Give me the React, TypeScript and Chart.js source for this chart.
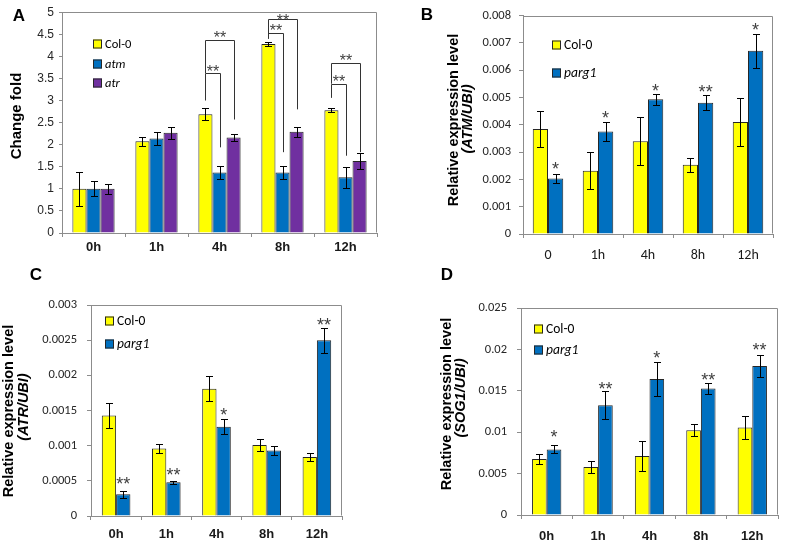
import React, { useEffect, useRef } from 'react';
import { Chart, registerables } from 'chart.js';

Chart.register(...registerables);

const W = 787;
const H = 543;
const YELLOW = '#FFFF00';
const BLUE = '#0070C0';
const PURPLE = '#7030A0';
const AXIS = '#8C8C8C';
const ARIAL = "'Liberation Sans', Arial, sans-serif";
const CALIBRI = "Carlito, Lato, sans-serif";

// ---------- Panel A ----------
const timesA = ['0h', '1h', '4h', '8h', '12h'];
const colA = [1.0, 2.08, 2.69, 4.28, 2.78];
const colAErr = [0.39, 0.1, 0.13, 0.055, 0.05];
const atmA = [1.0, 2.14, 1.37, 1.37, 1.26];
const atmAErr = [0.17, 0.14, 0.145, 0.14, 0.23];
const atrA = [1.0, 2.27, 2.16, 2.29, 1.63];
const atrAErr = [0.12, 0.14, 0.085, 0.11, 0.18];
const yTicksA = { max: 5, step: 0.5 };
// significance brackets (Col-0 vs mutant)
const bracketTimeA = [2, 2, 3, 3, 4, 4];
const bracketTargetA = [1, 2, 1, 2, 1, 2];
const bracketBaseA = [3.0, 3.62, 4.4, 4.4, 3.06, 3.38];
const bracketTopA = [3.62, 4.37, 4.54, 4.85, 3.38, 3.84];
const bracketEndA = [1.94, 2.57, 1.83, 2.8, 1.75, 1.83];
const bracketStarYA = [3.73, 4.5, 4.66, 4.89, 3.51, 3.99];
const bracketTextA = ['**', '**', '**', '**', '**', '**'];

// ---------- Panel B ----------
const timesB = ['0', '1h', '4h', '8h', '12h'];
const colB = [0.00384, 0.00232, 0.0034, 0.00254, 0.0041];
const colBErr = [0.00067, 0.00067, 0.00089, 0.00026, 0.00089];
const pargB = [0.00203, 0.00375, 0.00493, 0.00481, 0.00671];
const pargBErr = [0.00016, 0.00035, 0.00021, 0.00027, 0.00063];
const starB = ['*', '*', '*', '**', '*'];
const starYB = [0.00249, 0.00439, 0.00536, 0.00533, 0.00759];
const yTicksB = { max: 0.008, step: 0.001 };

// ---------- Panel C ----------
const timesC = ['0h', '1h', '4h', '8h', '12h'];
const colC = [0.00143, 0.00096, 0.00181, 0.00101, 0.00084];
const colCErr = [0.00018, 0.000066, 0.000175, 0.00009, 0.000052];
const pargC = [0.00031, 0.00048, 0.00127, 0.00093, 0.0025];
const pargCErr = [0.00005, 0.00002, 0.00011, 0.000065, 0.00018];
const starC = ['**', '**', '*', '', '**'];
const starYC = [0.0005, 0.00063, 0.00148, 0, 0.00277];
const yTicksC = { max: 0.003, step: 0.0005 };

// ---------- Panel D ----------
const timesD = ['0h', '1h', '4h', '8h', '12h'];
const colD = [0.00676, 0.0058, 0.00712, 0.01024, 0.01056];
const colDErr = [0.00056, 0.00072, 0.0018, 0.0007, 0.00138];
const pargD = [0.00792, 0.01324, 0.01644, 0.01528, 0.018];
const pargDErr = [0.00048, 0.00168, 0.00208, 0.00062, 0.00138];
const starD = ['*', '**', '*', '**', '**'];
const starYD = [0.0098, 0.0156, 0.0194, 0.0167, 0.0203];
const yTicksD = { max: 0.025, step: 0.005 };

type Series = { name: string; italic: boolean; color: string; values: number[]; errors: number[] };

type Panel = {
  labels: string[];
  series: Series[];
  yMax: number;
  yStep: number;
  area: { l: number; t: number; r: number; b: number };
  catPct: number;
  yFont: { family: string; size: number; weight: string };
  yTickLen: number;
  yPad: number;
  xFont: { family: string; size: number; weight: string };
  xPad: number;
  legend: { dx: number; dy: number[]; size: number; box: number };
  stars?: { dataset: number; text: string[]; y: number[] };
  brackets?: {
    time: number[]; target: number[]; base: number[]; top: number[]; end: number[]; starY: number[]; text: string[];
  };
  titles: { text: string; x: number; y: number; italic: boolean; size: number }[];
  letter: { text: string; x: number; y: number };
};

const panels: Panel[] = [
  {
    labels: timesA,
    series: [
      { name: 'Col-0', italic: false, color: YELLOW, values: colA, errors: colAErr },
      { name: 'atm', italic: true, color: BLUE, values: atmA, errors: atmAErr },
      { name: 'atr', italic: true, color: PURPLE, values: atrA, errors: atrAErr },
    ],
    yMax: yTicksA.max,
    yStep: yTicksA.step,
    area: { l: 62, t: 10, r: 377, b: 233 },
    catPct: 0.67,
    yFont: { family: ARIAL, size: 12, weight: 'normal' },
    yTickLen: 3,
    yPad: 5,
    xFont: { family: ARIAL, size: 13, weight: 'bold' },
    xPad: 3,
    legend: { dx: 31, dy: [32, 52, 71], size: 12.5, box: 9 },
    brackets: {
      time: bracketTimeA, target: bracketTargetA, base: bracketBaseA, top: bracketTopA,
      end: bracketEndA, starY: bracketStarYA, text: bracketTextA,
    },
    titles: [{ text: 'Change fold', x: 17, y: 116, italic: false, size: 15 }],
    letter: { text: 'A', x: 19, y: 15 },
  },
  {
    labels: timesB,
    series: [
      { name: 'Col-0', italic: false, color: YELLOW, values: colB, errors: colBErr },
      { name: 'parg1', italic: true, color: BLUE, values: pargB, errors: pargBErr },
    ],
    yMax: yTicksB.max,
    yStep: yTicksB.step,
    area: { l: 523, t: 7, r: 773, b: 234 },
    catPct: 0.61,
    yFont: { family: CALIBRI, size: 12.5, weight: 'normal' },
    yTickLen: 4,
    yPad: 8,
    xFont: { family: CALIBRI, size: 14, weight: 'normal' },
    xPad: 9,
    legend: { dx: 29, dy: [29, 57], size: 13.5, box: 9 },
    stars: { dataset: 1, text: starB, y: starYB },
    titles: [
      { text: 'Relative expression level', x: 454, y: 120, italic: false, size: 14.5 },
      { text: '(ATM/UBI)', x: 468, y: 119, italic: true, size: 14.5 },
    ],
    letter: { text: 'B', x: 427, y: 14 },
  },
  {
    labels: timesC,
    series: [
      { name: 'Col-0', italic: false, color: YELLOW, values: colC, errors: colCErr },
      { name: 'parg1', italic: true, color: BLUE, values: pargC, errors: pargCErr },
    ],
    yMax: yTicksC.max,
    yStep: yTicksC.step,
    area: { l: 91, t: 305, r: 342, b: 516 },
    catPct: 0.57,
    yFont: { family: CALIBRI, size: 12.5, weight: 'normal' },
    yTickLen: 4,
    yPad: 10,
    xFont: { family: ARIAL, size: 13, weight: 'bold' },
    xPad: 7,
    legend: { dx: 14, dy: [16, 39], size: 13.5, box: 9 },
    stars: { dataset: 1, text: starC, y: starYC },
    titles: [
      { text: 'Relative expression level', x: 9, y: 411, italic: false, size: 14.5 },
      { text: '(ATR/UBI)', x: 24, y: 407, italic: true, size: 14.5 },
    ],
    letter: { text: 'C', x: 36, y: 274 },
  },
  {
    labels: timesD,
    series: [
      { name: 'Col-0', italic: false, color: YELLOW, values: colD, errors: colDErr },
      { name: 'parg1', italic: true, color: BLUE, values: pargD, errors: pargDErr },
    ],
    yMax: yTicksD.max,
    yStep: yTicksD.step,
    area: { l: 521, t: 308, r: 778, b: 515 },
    catPct: 0.57,
    yFont: { family: CALIBRI, size: 12.5, weight: 'normal' },
    yTickLen: 4,
    yPad: 10,
    xFont: { family: ARIAL, size: 13, weight: 'bold' },
    xPad: 10,
    legend: { dx: 13, dy: [21, 42], size: 13.5, box: 9 },
    stars: { dataset: 1, text: starD, y: starYD },
    titles: [
      { text: 'Relative expression level', x: 447, y: 404, italic: false, size: 14.5 },
      { text: '(SOG1/UBI)', x: 461, y: 398, italic: true, size: 14.5 },
    ],
    letter: { text: 'D', x: 447, y: 274 },
  },
];

function drawStar(ctx: CanvasRenderingContext2D, text: string, x: number, yCenter: number, size: number) {
  ctx.save();
  ctx.font = `${size}px ${ARIAL}`;
  ctx.fillStyle = '#404040';
  ctx.textAlign = 'center';
  ctx.textBaseline = 'alphabetic';
  const m = ctx.measureText(text);
  const off = (m.actualBoundingBoxAscent - m.actualBoundingBoxDescent) / 2;
  ctx.fillText(text, x, yCenter + off);
  ctx.restore();
}

function extrasPlugin(p: Panel) {
  return {
    id: 'panelExtras',
    afterDatasetsDraw(chart: any) {
      const ctx: CanvasRenderingContext2D = chart.ctx;
      const ys = chart.scales.y;
      // error bars
      p.series.forEach((s, di) => {
        const meta = chart.getDatasetMeta(di);
        meta.data.forEach((bar: any, j: number) => {
          const v = s.values[j];
          const e = s.errors[j];
          const yT = Math.round(ys.getPixelForValue(v + e)) + 0.5;
          const yB = Math.round(ys.getPixelForValue(v - e)) + 0.5;
          const x = Math.round(bar.x) + 0.5;
          ctx.save();
          ctx.strokeStyle = '#000';
          ctx.lineWidth = 1;
          ctx.beginPath();
          ctx.moveTo(x, yT);
          ctx.lineTo(x, yB);
          ctx.moveTo(x - 3.5, yT);
          ctx.lineTo(x + 3.5, yT);
          ctx.moveTo(x - 3.5, yB);
          ctx.lineTo(x + 3.5, yB);
          ctx.stroke();
          ctx.restore();
        });
      });
      // stars above bars
      if (p.stars) {
        const meta = chart.getDatasetMeta(p.stars.dataset);
        p.stars.text.forEach((t, j) => {
          if (!t) return;
          drawStar(ctx, t, meta.data[j].x, ys.getPixelForValue(p.stars!.y[j]), 18);
        });
      }
      // brackets
      if (p.brackets) {
        const b = p.brackets;
        const m0 = chart.getDatasetMeta(0);
        b.time.forEach((ti, k) => {
          const mt = chart.getDatasetMeta(b.target[k]);
          const x1 = Math.round(m0.data[ti].x) + 0.5;
          const x2 = Math.round(mt.data[ti].x) + 0.5;
          const yb = ys.getPixelForValue(b.base[k]);
          const yt = Math.round(ys.getPixelForValue(b.top[k])) + 0.5;
          const ye = ys.getPixelForValue(b.end[k]);
          ctx.save();
          ctx.strokeStyle = '#333333';
          ctx.lineWidth = 1;
          ctx.beginPath();
          ctx.moveTo(x1, yb);
          ctx.lineTo(x1, yt);
          ctx.lineTo(x2, yt);
          ctx.lineTo(x2, ye);
          ctx.stroke();
          ctx.restore();
          drawStar(ctx, b.text[k], (x1 + x2) / 2, ys.getPixelForValue(b.starY[k]), 16);
        });
      }
    },
    afterDraw(chart: any) {
      const ctx: CanvasRenderingContext2D = chart.ctx;
      const ca = chart.chartArea;
      // plot box (top & right edges)
      ctx.save();
      ctx.strokeStyle = AXIS;
      ctx.lineWidth = 1;
      ctx.beginPath();
      const L = Math.round(ca.left) + 0.5;
      const T = Math.round(ca.top) + 0.5;
      const R = Math.round(ca.right) - 0.5;
      const B = Math.round(ca.bottom) - 0.5;
      ctx.moveTo(L, T);
      ctx.lineTo(R, T);
      ctx.lineTo(R, B);
      ctx.stroke();
      ctx.restore();
      // legend
      const lg = p.legend;
      p.series.forEach((s, i) => {
        const x = Math.round(ca.left + lg.dx);
        const yc = Math.round(ca.top + lg.dy[i]);
        ctx.save();
        ctx.fillStyle = s.color;
        ctx.fillRect(x, yc - lg.box / 2, lg.box, lg.box);
        ctx.strokeStyle = '#262626';
        ctx.lineWidth = 1;
        ctx.strokeRect(x + 0.5, yc - lg.box / 2 + 0.5, lg.box - 1, lg.box - 1);
        ctx.font = `${s.italic ? 'italic ' : ''}${lg.size}px ${CALIBRI}`;
        ctx.fillStyle = '#000';
        ctx.textAlign = 'left';
        ctx.textBaseline = 'middle';
        ctx.fillText(s.name, x + lg.box + 3, yc + 1);
        ctx.restore();
      });
      // axis titles
      p.titles.forEach((t) => {
        ctx.save();
        ctx.translate(t.x, t.y);
        ctx.rotate(-Math.PI / 2);
        ctx.font = `${t.italic ? 'italic ' : ''}bold ${t.size}px ${ARIAL}`;
        ctx.fillStyle = '#000';
        ctx.textAlign = 'center';
        ctx.textBaseline = 'middle';
        ctx.fillText(t.text, 0, 0);
        ctx.restore();
      });
      // panel letter
      ctx.save();
      ctx.font = `bold 17px ${ARIAL}`;
      ctx.fillStyle = '#000';
      ctx.textAlign = 'center';
      ctx.textBaseline = 'middle';
      ctx.fillText(p.letter.text, p.letter.x, p.letter.y + 1);
      ctx.restore();
    },
  };
}

function makeChart(canvas: HTMLCanvasElement, p: Panel) {
  const yAxisW = 50;
  const xAxisH = 32;
  return new Chart(canvas, {
    type: 'bar',
    data: {
      labels: p.labels,
      datasets: p.series.map((s) => ({
        label: s.name,
        data: s.values,
        backgroundColor: s.color,
        borderColor: '#262626',
        borderWidth: 1,
        categoryPercentage: p.catPct,
        barPercentage: 1.0,
      })),
    },
    options: {
      responsive: false,
      animation: false,
      devicePixelRatio: 1,
      layout: {
        padding: {
          left: p.area.l - yAxisW,
          top: p.area.t,
          right: W - p.area.r,
          bottom: H - p.area.b - xAxisH,
        },
      },
      plugins: {
        legend: { display: false },
        tooltip: { enabled: false },
        title: { display: false },
      },
      scales: {
        x: {
          grid: { display: true, drawOnChartArea: false, drawTicks: true, tickLength: 4, color: AXIS, offset: true },
          border: { display: true, color: AXIS, width: 1 },
          ticks: {
            color: '#1a1a1a',
            font: { family: p.xFont.family, size: p.xFont.size, weight: p.xFont.weight as any },
            padding: p.xPad,
            maxRotation: 0,
            autoSkip: false,
          },
          afterFit: (s: any) => {
            s.height = xAxisH;
          },
        },
        y: {
          min: 0,
          max: p.yMax,
          grid: { display: true, drawOnChartArea: false, drawTicks: true, tickLength: p.yTickLen, color: AXIS },
          border: { display: true, color: AXIS, width: 1 },
          ticks: {
            stepSize: p.yStep,
            color: '#262626',
            font: { family: p.yFont.family, size: p.yFont.size, weight: p.yFont.weight as any },
            padding: p.yPad,
            callback: (v: any) => String(Number(Number(v).toFixed(6))),
          },
          afterFit: (s: any) => {
            s.width = yAxisW;
          },
        },
      },
    },
    plugins: [extrasPlugin(p)],
  } as any);
}

export default function App() {
  const r0 = useRef<HTMLCanvasElement>(null);
  const r1 = useRef<HTMLCanvasElement>(null);
  const r2 = useRef<HTMLCanvasElement>(null);
  const r3 = useRef<HTMLCanvasElement>(null);
  const refs = [r0, r1, r2, r3];

  useEffect(() => {
    const charts = panels.map((p, i) => makeChart(refs[i].current as HTMLCanvasElement, p));
    return () => charts.forEach((c) => c.destroy());
  }, []);

  return (
    <div style={{ position: 'fixed', left: 0, top: 0, width: W, height: H, background: '#fff' }}>
      {panels.map((p, i) => (
        <canvas
          key={i}
          ref={refs[i]}
          width={W}
          height={H}
          style={{ position: 'absolute', left: 0, top: 0, width: W, height: H }}
        />
      ))}
    </div>
  );
}
